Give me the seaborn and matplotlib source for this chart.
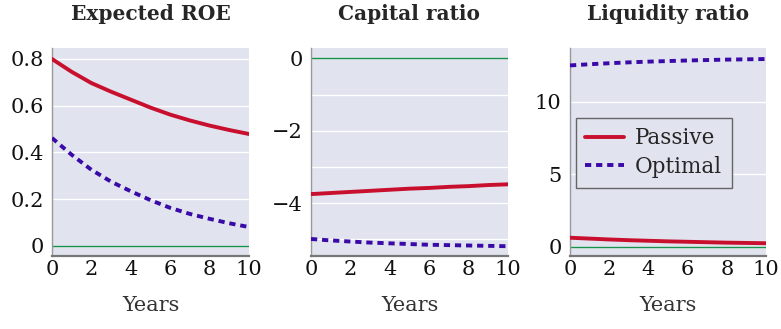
import numpy as np
import pandas as pd
import matplotlib
matplotlib.use("Agg")
import matplotlib.pyplot as plt
from matplotlib.ticker import MultipleLocator
import seaborn as sns

years = [0, 1, 2, 3, 4, 5, 6, 7, 8, 9, 10]
roe_passive = [0.80, 0.745, 0.697, 0.66, 0.626, 0.592, 0.562, 0.537, 0.515, 0.496, 0.479]
roe_optimal = [0.462, 0.39, 0.326, 0.275, 0.234, 0.196, 0.163, 0.137, 0.116, 0.097, 0.081]
cap_passive = [-3.75, -3.72, -3.69, -3.66, -3.63, -3.60, -3.58, -3.55, -3.53, -3.50, -3.48]
cap_optimal = [-4.99, -5.03, -5.06, -5.09, -5.11, -5.13, -5.15, -5.16, -5.17, -5.18, -5.19]
liq_passive = [0.62, 0.56, 0.50, 0.45, 0.41, 0.37, 0.34, 0.31, 0.28, 0.26, 0.24]
liq_optimal = [12.50, 12.58, 12.65, 12.71, 12.76, 12.80, 12.84, 12.87, 12.90, 12.92, 12.94]
titles = ["Expected ROE", "Capital ratio", "Liquidity ratio"]
series_names = ["Passive", "Optimal"]

BG = "#e1e3ee"
sns.set_theme(style="darkgrid", rc={"axes.facecolor": BG, "grid.color": "white",
                                    "grid.linewidth": 1.0})
plt.rcParams["font.family"] = ["DejaVu Serif"]
plt.rcParams["mathtext.fontset"] = "dejavuserif"

frames = []
for title, p, o in zip(titles, [roe_passive, cap_passive, liq_passive],
                       [roe_optimal, cap_optimal, liq_optimal]):
    frames.append(pd.DataFrame({"Years": years, "value": p, "series": "Passive", "panel": title}))
    frames.append(pd.DataFrame({"Years": years, "value": o, "series": "Optimal", "panel": title}))
df = pd.concat(frames, ignore_index=True)

fig = plt.figure(figsize=(7.81, 3.29), dpi=100)
positions = [[52, 249], [311, 508], [570, 766]]
ylims = [(-0.043, 0.847), (-5.46, 0.285), (-0.64, 13.7)]
majors = [0.2, 2, 5]
minors = [0.2, 1, 5]
palette = {"Passive": "#c8102e", "Optimal": "#3a0aa8"}
dashes = {"Passive": "", "Optimal": (1.6, 1.25)}

for i, title in enumerate(titles):
    l, r = positions[i]
    ax = fig.add_axes([l / 781, (329 - 256) / 329, (r - l) / 781, 208 / 329])
    sub = df[df["panel"] == title]
    ax.axhline(0, color="#17924a", lw=1.0, zorder=1)
    sns.lineplot(data=sub, x="Years", y="value", hue="series", style="series",
                 palette=palette, dashes=dashes, linewidth=2.8, ax=ax,
                 legend=(i == 2), zorder=3)
    ax.set_xlim(0, 10)
    ax.set_ylim(*ylims[i])
    ax.xaxis.set_major_locator(MultipleLocator(2))
    ax.yaxis.set_major_locator(MultipleLocator(majors[i]))
    ax.yaxis.set_minor_locator(MultipleLocator(minors[i]))
    ax.grid(True, which="both", axis="y", color="white", lw=1.0)
    ax.grid(False, axis="x")
    ax.set_title(title, fontsize=14.5, fontweight="bold", pad=20)
    ax.set_xlabel("Years", fontsize=15, labelpad=12, color="#333333")
    ax.set_ylabel("")
    if i == 1:
        ax.set_yticks([0, -2, -4])
        ax.set_yticklabels(["0", "\u22122", "\u22124"])
    if i == 0:
        ax.set_yticks([0, 0.2, 0.4, 0.6, 0.8])
        ax.set_yticklabels(["0", "0.2", "0.4", "0.6", "0.8"])
    if i == 2:
        ax.set_yticks([0, 5, 10])
    ax.set_xticks([0, 2, 4, 6, 8, 10])
    ax.tick_params(axis="x", direction="in", length=8, width=1.0, color="#777777",
                   labelsize=15, pad=3, labelcolor="#111111")
    ax.tick_params(axis="y", which="major", direction="in", length=5, width=1.0,
                   color="#cccccc", labelsize=15, pad=6, labelcolor="#111111")
    ax.tick_params(axis="y", which="minor", length=0)
    for s in ["top", "right"]:
        ax.spines[s].set_visible(False)
    ax.spines["left"].set_visible(True)
    ax.spines["left"].set_color("#999999")
    ax.spines["left"].set_linewidth(1.0)
    ax.spines["bottom"].set_visible(True)
    ax.spines["bottom"].set_color("#777777")
    ax.spines["bottom"].set_linewidth(1.6)
    if i == 2:
        handles, labels = ax.get_legend_handles_labels()
        leg = ax.legend(handles, labels, loc="upper left", bbox_to_anchor=(0.029, 0.665),
                        borderaxespad=0, fontsize=15.5, frameon=True, fancybox=False,
                        facecolor=BG, edgecolor="#666666", framealpha=1.0,
                        handlelength=1.8, handletextpad=0.5, borderpad=0.45,
                        labelspacing=0.3)
        leg.get_frame().set_linewidth(1.0)

fig.savefig("out.png", dpi=100)
